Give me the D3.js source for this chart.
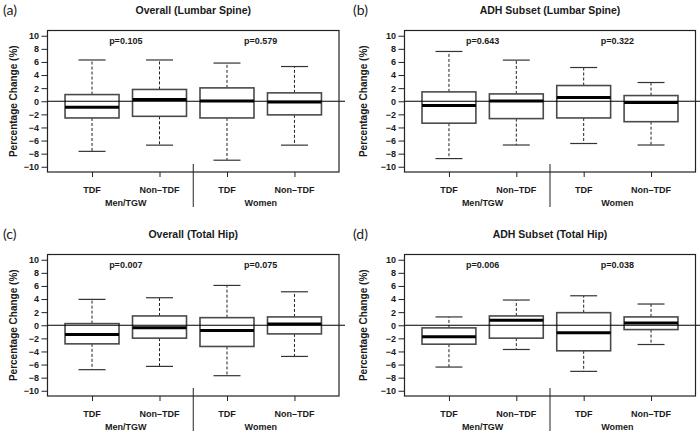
<!DOCTYPE html>
<html>
<head>
<meta charset="utf-8">
<script src="https://cdn.jsdelivr.net/npm/d3@7"></script>
<style>
  html, body { margin: 0; padding: 0; background: #fff; }
  svg { display: block; }
  text { font-family: "Liberation Sans", Arial, sans-serif; fill: #1a1a1a; }
</style>
</head>
<body>
<svg id="chart" width="700" height="438"></svg>
<script>
// ---- Data ----
const tags = ["(a)", "(b)", "(c)", "(d)"];
const titles = ["Overall (Lumbar Spine)", "ADH Subset (Lumbar Spine)", "Overall (Total Hip)", "ADH Subset (Total Hip)"];
const categories = ["TDF", "Non\u2013TDF", "TDF", "Non\u2013TDF"];
const groups = ["Men/TGW", "Women"];
const yTicks = [-10, -8, -6, -4, -2, 0, 2, 4, 6, 8, 10];
const pValues = [
  ["p=0.105", "p=0.579"],
  ["p=0.643", "p=0.322"],
  ["p=0.007", "p=0.075"],
  ["p=0.006", "p=0.038"]
];
// each row: [lower whisker, Q1, median, Q3, upper whisker]
const overallLumbar = [
  [-7.65, -2.55, -0.9, 1.02, 6.3],
  [-6.7, -2.3, 0.25, 1.8, 6.3],
  [-9.0, -2.55, 0.03, 2.04, 5.83],
  [-6.7, -2.08, -0.1, 1.28, 5.3]
];
const adhLumbar = [
  [-8.75, -3.35, -0.65, 1.43, 7.6],
  [-6.68, -2.65, 0.05, 1.12, 6.28],
  [-6.45, -2.55, 0.56, 2.4, 5.15],
  [-6.68, -3.12, -0.2, 0.87, 2.86]
];
const overallHip = [
  [-6.78, -2.84, -1.42, 0.25, 3.95],
  [-6.28, -1.97, -0.4, 1.42, 4.2],
  [-7.7, -3.24, -0.81, 1.16, 6.08],
  [-4.76, -1.32, 0.2, 1.27, 5.11]
];
const adhHip = [
  [-6.38, -2.89, -1.77, -0.4, 1.27],
  [-3.7, -1.97, 0.76, 1.42, 3.85],
  [-7.04, -3.9, -1.16, 1.92, 4.5],
  [-2.94, -0.66, 0.35, 1.27, 3.24]
];
const panelData = [overallLumbar, adhLumbar, overallHip, adhHip];

// ---- Layout ----
const frames = [
  { L: 47.5, R: 339, T: 30.5, B: 172, ylabX: 13 },
  { L: 404.5, R: 695.5, T: 30.5, B: 172, ylabX: 363 },
  { L: 47.5, R: 339, T: 254.5, B: 396, ylabX: 13 },
  { L: 404.5, R: 695.5, T: 254.5, B: 396, ylabX: 363 }
];
const tagX = [3, 353, 3, 353];

const svg = d3.select("#chart");

panelData.forEach((rows, i) => {
  const f = frames[i];
  const g = svg.append("g");
  const x = d3.scaleLinear().domain([0.34, 4.66]).range([f.L, f.R]);
  const y = d3.scaleLinear().domain([-10.8, 10.8]).range([f.B, f.T]);
  const step = x(2) - x(1);
  const boxW = step * 0.8;
  const capW = boxW / 2;

  // tag and title
  g.append("text").attr("x", tagX[i]).attr("y", f.T - 15.5)
    .style("font-family", "Lato, 'Noto Sans', sans-serif").style("font-size", "14px")
    .text(tags[i]);
  g.append("text").attr("x", (f.L + f.R) / 2).attr("y", f.T - 17)
    .attr("text-anchor", "middle").style("font-size", "10.5px").style("font-weight", "bold")
    .text(titles[i]);

  // y axis
  const yAxis = d3.axisLeft(y).tickValues(yTicks).tickSize(6).tickPadding(2.5)
    .tickFormat(d3.format("d"));
  const ya = g.append("g").attr("transform", `translate(${f.L},0)`).call(yAxis);
  ya.select(".domain").remove();
  ya.selectAll("text").style("font-size", "9px").style("font-weight", "bold")
    .style("font-family", "'Liberation Sans', Arial, sans-serif").attr("fill", "#1a1a1a");
  ya.selectAll("line").attr("stroke", "#222");

  // x axis
  const xAxis = d3.axisBottom(x).tickValues([1, 2, 3, 4]).tickSize(5).tickFormat("");
  const xa = g.append("g").attr("transform", `translate(0,${f.B})`).call(xAxis);
  xa.select(".domain").remove();
  xa.selectAll("line").attr("stroke", "#222");

  // category labels
  g.selectAll(".cat").data(categories).enter().append("text")
    .attr("x", (d, j) => x(j + 1)).attr("y", f.B + 20.5)
    .attr("text-anchor", "middle").style("font-size", "9px").style("font-weight", "bold")
    .text(d => d);
  // group labels
  g.selectAll(".grp").data(groups).enter().append("text")
    .attr("x", (d, j) => x(j * 2 + 1.5)).attr("y", f.B + 33.5)
    .attr("text-anchor", "middle").style("font-size", "9px").style("font-weight", "bold")
    .text(d => d);
  // separator
  g.append("line").attr("x1", x(2.5)).attr("x2", x(2.5))
    .attr("y1", f.B - 8).attr("y2", f.B + 35).attr("stroke", "#222").attr("stroke-width", 1);

  // y label
  g.append("text")
    .attr("transform", `translate(${f.ylabX + 3.5},${(f.T + f.B) / 2}) rotate(-90)`)
    .attr("text-anchor", "middle").style("font-size", "10px").style("font-weight", "bold")
    .text("Percentage Change (%)");

  // p-values
  g.selectAll(".pv").data(pValues[i]).enter().append("text")
    .attr("x", (d, j) => x(j * 2 + 1.5)).attr("y", f.T + 13.5)
    .attr("text-anchor", "middle").style("font-size", "9px").style("font-weight", "bold")
    .text(d => d);

  // boxes
  rows.forEach((r, j) => {
    const cx = x(j + 1);
    const [lo, q1, med, q3, hi] = r;
    // whiskers
    g.append("line").attr("x1", cx).attr("x2", cx).attr("y1", y(q3)).attr("y2", y(hi))
      .attr("stroke", "#222").attr("stroke-width", 1).attr("stroke-dasharray", "3,2");
    g.append("line").attr("x1", cx).attr("x2", cx).attr("y1", y(q1)).attr("y2", y(lo))
      .attr("stroke", "#222").attr("stroke-width", 1).attr("stroke-dasharray", "3,2");
    // caps
    [lo, hi].forEach(v => {
      g.append("line").attr("x1", cx - capW / 2).attr("x2", cx + capW / 2)
        .attr("y1", y(v)).attr("y2", y(v)).attr("stroke", "#333").attr("stroke-width", 1.2);
    });
    // box
    g.append("rect").attr("x", cx - boxW / 2).attr("y", y(q3))
      .attr("width", boxW).attr("height", y(q1) - y(q3))
      .attr("fill", "#fff").attr("stroke", "#4a4a4a").attr("stroke-width", 1.6);
    // median
    g.append("line").attr("x1", cx - boxW / 2).attr("x2", cx + boxW / 2)
      .attr("y1", y(med)).attr("y2", y(med)).attr("stroke", "#000").attr("stroke-width", 3);
  });

  // zero reference line
  g.append("line").attr("x1", f.L).attr("x2", f.R + 6).attr("y1", y(0)).attr("y2", y(0))
    .attr("stroke", "#000").attr("stroke-width", 1);

  // frame
  g.append("rect").attr("x", f.L).attr("y", f.T).attr("width", f.R - f.L).attr("height", f.B - f.T)
    .attr("fill", "none").attr("stroke", "#222").attr("stroke-width", 1.2);
});
</script>
</body>
</html>
